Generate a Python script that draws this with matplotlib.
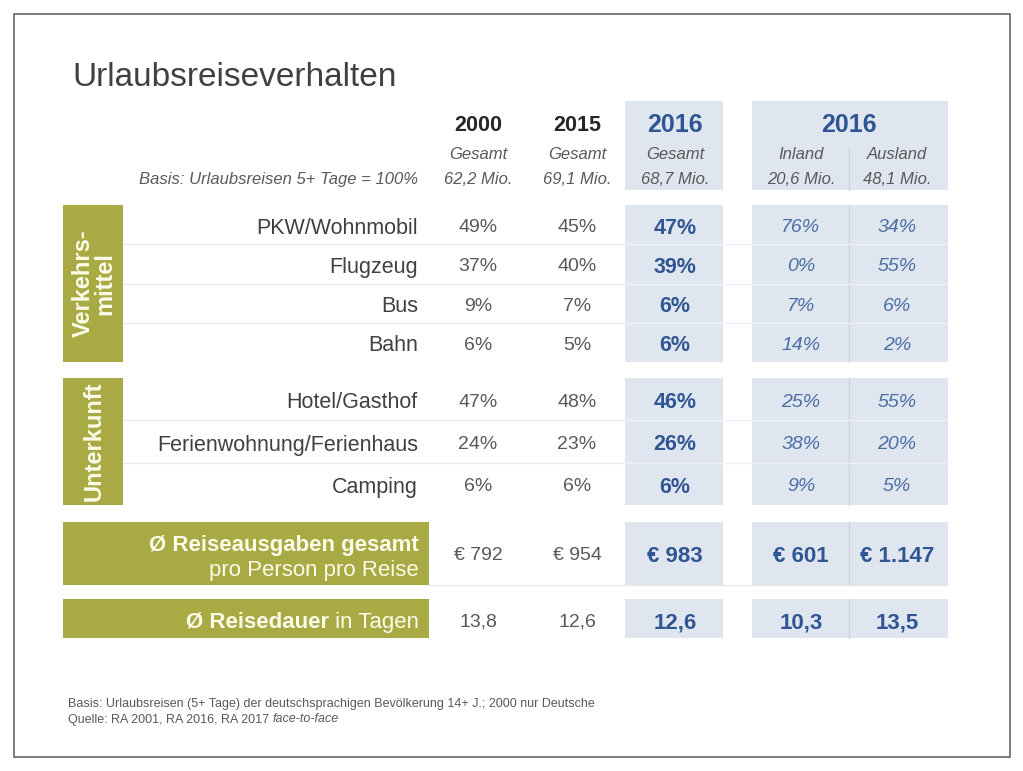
import matplotlib.pyplot as plt
from matplotlib.patches import Rectangle

plt.rcParams['font.family'] = ['Liberation Sans', 'DejaVu Sans']

# Daten
spalten_jahr = ["2000", "2015", "2016", "2016"]
spalten_sub = ["Gesamt", "Gesamt", "Gesamt", "Inland", "Ausland"]
basis_mio = [62.2, 69.1, 68.7, 20.6, 48.1]

verkehr = ["PKW/Wohnmobil", "Flugzeug", "Bus", "Bahn"]
verkehr_2000 = [49, 37, 9, 6]
verkehr_2015 = [45, 40, 7, 5]
verkehr_2016 = [47, 39, 6, 6]
verkehr_inland = [76, 0, 7, 14]
verkehr_ausland = [34, 55, 6, 2]

unterkunft = ["Hotel/Gasthof", "Ferienwohnung/Ferienhaus", "Camping"]
unterkunft_2000 = [47, 24, 6]
unterkunft_2015 = [48, 23, 6]
unterkunft_2016 = [46, 26, 6]
unterkunft_inland = [25, 38, 9]
unterkunft_ausland = [55, 20, 5]

ausgaben = [792, 954, 983, 601, 1147]
dauer = [13.8, 12.6, 12.6, 10.3, 13.5]

# Farben
GREEN = "#a9aa43"
SHADE = "#e0e6ef"
BLUE = "#2f5692"
BLUE_IT = "#4a6ea5"
GREY = "#595959"
DARK = "#404040"
CREAM = "#fbfbea"

col_x = [478, 577, 675, 801, 897]
VA = "center_baseline"


def de(v, nd=1):
    return f"{v:.{nd}f}".replace(".", ",")


def euro(v):
    return "€ " + f"{v:,}".replace(",", ".")


fig = plt.figure(figsize=(10.23, 7.71), dpi=100)
ax = fig.add_axes([0, 0, 1, 1])
ax.set_xlim(0, 1023)
ax.set_ylim(771, 0)
ax.axis("off")
renderer = fig.canvas.get_renderer()


def width_px(t):
    bb = t.get_window_extent(renderer=renderer)
    return bb.width


ax.add_patch(Rectangle((14, 14), 996, 743, fill=False, ec="#666666", lw=1.2))

ax.text(72, 74, "Urlaubsreiseverhalten", fontsize=24, color=DARK, va=VA)

# schattierte Spalten
blocks = [(101, 190), (205, 362), (378, 505), (522, 585), (599, 638)]
for y0, y1 in blocks:
    ax.add_patch(Rectangle((625, y0), 98, y1 - y0, fc=SHADE, ec="none"))
    ax.add_patch(Rectangle((752, y0), 196, y1 - y0, fc=SHADE, ec="none"))
    top = 148 if y0 == 101 else y0
    ax.plot([849, 849], [top, y1], color="#cdd5e1", lw=1)

# Kopfzeile
ax.text(col_x[0], 123, spalten_jahr[0], fontsize=15.5, fontweight="bold", color="#262626", ha="center", va=VA)
ax.text(col_x[1], 123, spalten_jahr[1], fontsize=15.5, fontweight="bold", color="#262626", ha="center", va=VA)
ax.text(col_x[2], 123, spalten_jahr[2], fontsize=18, fontweight="bold", color=BLUE, ha="center", va=VA)
ax.text((col_x[3] + col_x[4]) / 2, 123, spalten_jahr[3], fontsize=18, fontweight="bold", color=BLUE,
        ha="center", va=VA)
for x, s, m in zip(col_x, spalten_sub, basis_mio):
    ax.text(x, 153, s, fontsize=12, style="italic", color=GREY, ha="center", va=VA)
    ax.text(x, 178, de(m) + " Mio.", fontsize=12, style="italic", color=GREY, ha="center", va=VA)
ax.text(418, 178, "Basis: Urlaubsreisen 5+ Tage = 100%", fontsize=12, style="italic",
        color=GREY, ha="right", va=VA)


def group(labels, cols, y_top, y_bot, title):
    n = len(labels)
    h = (y_bot - y_top) / n
    ax.add_patch(Rectangle((63, y_top), 60, y_bot - y_top, fc=GREEN, ec="none"))
    ax.text(94, (y_top + y_bot) / 2, title, rotation=90, fontsize=17, fontweight="bold",
            color=CREAM, ha="center", va="center", multialignment="center", linespacing=0.9)
    for i in range(1, n):
        y = y_top + i * h
        ax.plot([123, 625], [y, y], color="#e8e8e8", lw=1)
        ax.plot([625, 948], [y, y], color="#eef1f6", lw=1)
    for i, lab in enumerate(labels):
        y = y_top + (i + 0.5) * h + 1
        ax.text(418, y, lab, fontsize=15.5, color=DARK, ha="right", va=VA)
        ax.text(col_x[0], y, f"{cols[0][i]}%", fontsize=14, color=GREY, ha="center", va=VA)
        ax.text(col_x[1], y, f"{cols[1][i]}%", fontsize=14, color=GREY, ha="center", va=VA)
        ax.text(col_x[2], y, f"{cols[2][i]}%", fontsize=15.5, fontweight="bold", color=BLUE, ha="center", va=VA)
        ax.text(col_x[3], y, f"{cols[3][i]}%", fontsize=14, style="italic", color=BLUE_IT, ha="center", va=VA)
        ax.text(col_x[4], y, f"{cols[4][i]}%", fontsize=14, style="italic", color=BLUE_IT, ha="center", va=VA)


group(verkehr, [verkehr_2000, verkehr_2015, verkehr_2016, verkehr_inland, verkehr_ausland],
      205, 362, "Verkehrs-\nmittel")
group(unterkunft, [unterkunft_2000, unterkunft_2015, unterkunft_2016, unterkunft_inland, unterkunft_ausland],
      378, 505, "Unterkunft")

# Reiseausgaben
ax.add_patch(Rectangle((63, 522), 366, 63, fc=GREEN, ec="none"))
ax.text(419, 543, "Ø Reiseausgaben gesamt", fontsize=16, fontweight="bold", color=CREAM, ha="right", va=VA)
ax.text(419, 568, "pro Person pro Reise", fontsize=16, color=CREAM, ha="right", va=VA)
ax.plot([429, 948], [585, 585], color="#e8e8e8", lw=1)
for j, (x, v) in enumerate(zip(col_x, ausgaben)):
    if j < 2:
        ax.text(x, 554, euro(v), fontsize=14, color=GREY, ha="center", va=VA)
    else:
        ax.text(x, 554, euro(v), fontsize=16, fontweight="bold", color=BLUE, ha="center", va=VA)

# Reisedauer
ax.add_patch(Rectangle((63, 599), 366, 39, fc=GREEN, ec="none"))
t_rest = ax.text(419, 620, " in Tagen", fontsize=16, color=CREAM, ha="right", va=VA)
ax.text(419 - width_px(t_rest), 620, "Ø Reisedauer", fontsize=16, fontweight="bold", color=CREAM,
        ha="right", va=VA)
for j, (x, v) in enumerate(zip(col_x, dauer)):
    if j < 2:
        ax.text(x, 620, de(v), fontsize=14, color=GREY, ha="center", va=VA)
    else:
        ax.text(x, 620, de(v), fontsize=16, fontweight="bold", color=BLUE, ha="center", va=VA)

# Fussnote
ax.text(68, 702, "Basis: Urlaubsreisen (5+ Tage) der deutschsprachigen Bevölkerung 14+ J.; 2000 nur Deutsche",
        fontsize=9, color=GREY, va=VA)
t_q = ax.text(68, 718, "Quelle: RA 2001, RA 2016, RA 2017 ", fontsize=9, color=GREY, va=VA)
ax.text(68 + width_px(t_q), 718, "face-to-face", fontsize=9, style="italic", color=GREY, va=VA)

fig.savefig("out.png", dpi=100)
